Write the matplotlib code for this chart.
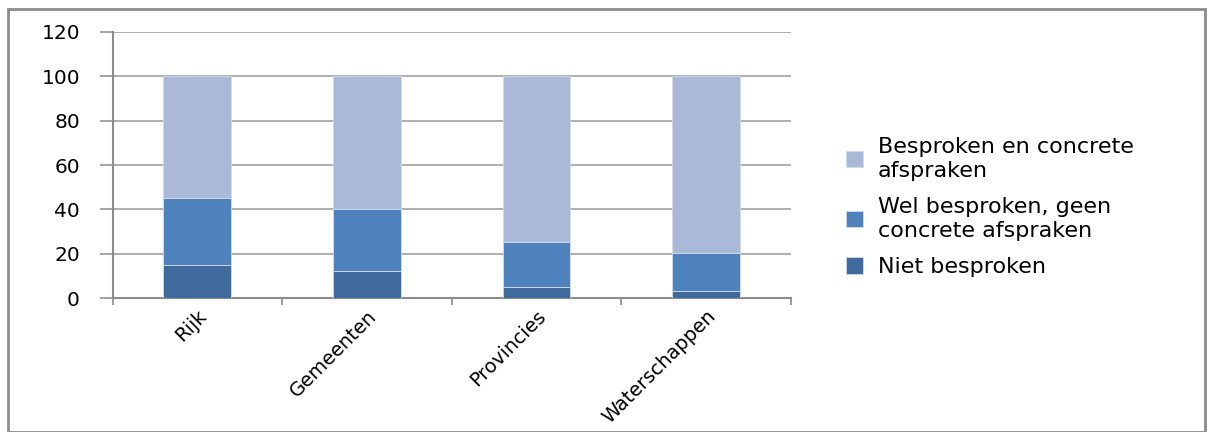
import numpy as np
import matplotlib.pyplot as plt
from matplotlib.patches import Rectangle

plt.rcParams["font.family"] = "DejaVu Sans"
plt.rcParams["font.size"] = 14.5

categories = ["Rijk", "Gemeenten", "Provincies", "Waterschappen"]
niet_besproken = [15, 12, 5, 3]
wel_besproken = [30, 28, 20.5, 17.5]
concrete_afspraken = [55, 60, 74.5, 79.5]

labels = [
    "Niet besproken",
    "Wel besproken, geen\nconcrete afspraken",
    "Besproken en concrete\nafspraken",
]
colors = ["#3F6A9B", "#4F81BD", "#AAB9D7"]

fig = plt.figure(figsize=(12.11, 4.32), dpi=100)
ax = fig.add_axes([0.093, 0.31, 0.56, 0.616])

# gray frame round the whole chart
fig.patches.append(Rectangle((0.007, 0.0), 0.988, 0.98, transform=fig.transFigure,
                             fill=False, edgecolor="#8C8C8C", linewidth=2))

x = np.arange(len(categories))
bottom = np.zeros(len(categories))
for vals, col, lab in zip([niet_besproken, wel_besproken, concrete_afspraken], colors, labels):
    ax.bar(x, vals, width=0.4, bottom=bottom, color=col, edgecolor="#D0DCEC",
           linewidth=0.6, label=lab, zorder=3)
    bottom += np.array(vals)

ax.set_xlim(-0.5, len(categories) - 0.5)
ax.set_ylim(0, 120)
ax.set_yticks(range(0, 121, 20))
ax.grid(axis="y", color="#999999", linewidth=1.1, zorder=0)
ax.set_axisbelow(True)

ax.set_xticks(x)
ax.set_xticklabels(categories, rotation=45, ha="right", rotation_mode="anchor", fontsize=14)
ax.tick_params(axis="x", length=0, pad=6)
ax.set_xticks(np.arange(-0.5, len(categories)), minor=True)
ax.tick_params(axis="x", which="minor", length=5, color="#8C8C8C", width=1.2)
ax.tick_params(axis="y", length=9.5, color="#8C8C8C", width=1.1, pad=14)

for s in ["top", "right"]:
    ax.spines[s].set_visible(False)
ax.spines["left"].set_color("#8C8C8C")
ax.spines["left"].set_linewidth(1.5)
ax.spines["bottom"].set_color("#8C8C8C")
ax.spines["bottom"].set_linewidth(1.5)

handles, labs = ax.get_legend_handles_labels()
fig.legend(handles[::-1], labs[::-1], loc="center left", bbox_to_anchor=(0.682, 0.52),
           frameon=False, fontsize=16, handlelength=0.75, handleheight=0.75,
           labelspacing=0.75, handletextpad=0.7)

plt.savefig("out.png", dpi=100)
